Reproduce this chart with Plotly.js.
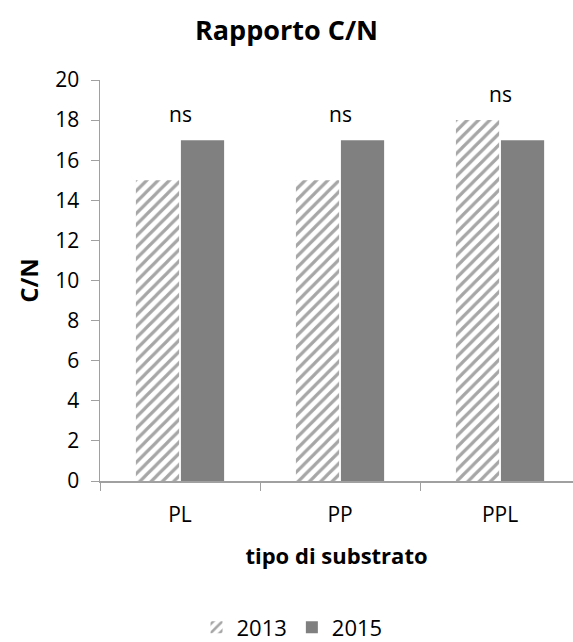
<!DOCTYPE html>
<html>
<head>
<meta charset="utf-8">
<script src="https://cdn.plot.ly/plotly-3.0.1.min.js"></script>
<style>html,body{margin:0;padding:0;background:#fff;}#chart{width:573px;height:642px;}</style>
</head>
<body>
<div id="chart"></div>
<script>
const categories = ["PL", "PP", "PPL"];
const values2013 = [15, 15, 18];
const values2015 = [17, 17, 17];
const seriesNames = ["2013", "2015"];
const sigLabels = ["ns", "ns", "ns"];
const yTicks = [0, 2, 4, 6, 8, 10, 12, 14, 16, 18, 20];

const font = "Open Sans, Liberation Sans, sans-serif";
const traces = [
  {
    type: "bar", name: seriesNames[0], x: categories, y: values2013,
    marker: {color: "#ffffff", line: {width: 0},
      pattern: {shape: "/", fgcolor: "#a6a6a6", bgcolor: "#ffffff", size: 8, solidity: 0.4}}
  },
  {
    type: "bar", name: seriesNames[1], x: categories, y: values2015,
    marker: {color: "#808080", line: {width: 0}}
  }
];

const annotations = categories.map((c, i) => ({
  x: c, y: Math.max(values2013[i], values2015[i]) + 1.3, text: sigLabels[i],
  showarrow: false, yanchor: "middle", xanchor: "center",
  font: {family: font, size: 21, color: "#000"}
}));

const layout = {
  width: 573, height: 642,
  margin: {l: 100, r: 0, t: 80, b: 161, autoexpand: false},
  paper_bgcolor: "#fff", plot_bgcolor: "#fff",
  font: {family: font, color: "#000", size: 21},
  title: {text: "<b>Rapporto C/N</b>", x: 0.5, xanchor: "center", y: 0.953, yanchor: "middle",
    font: {family: font, size: 27, color: "#000"}},
  barmode: "group", bargap: 0.4375, bargroupgap: 0.04,
  xaxis: {
    range: [-0.5, 2.456], showline: true, linecolor: "#a0a0a0", linewidth: 1.5,
    ticks: "outside", tickson: "boundaries", ticklen: 8, tickcolor: "#a0a0a0",
    ticklabelstandoff: 14, automargin: false,
    showgrid: false, zeroline: false, fixedrange: true,
    tickfont: {family: font, size: 21, color: "#000"},
    title: {text: "<b>tipo di substrato</b>", standoff: 22, font: {family: font, size: 22, color: "#000"}}
  },
  yaxis: {
    range: [0, 20], tickvals: yTicks, showline: true, linecolor: "#a0a0a0", linewidth: 1.5,
    ticks: "outside", ticklen: 8, tickcolor: "#a0a0a0", showgrid: false, zeroline: false,
    ticklabelstandoff: 7, automargin: false,
    tickfont: {family: font, size: 21, color: "#000"},
    title: {text: "<b>C/N</b>", standoff: 10, font: {family: font, size: 24, color: "#000"}}
  },
  showlegend: true,
  legend: {orientation: "h", x: 0.406, xanchor: "center", y: -0.365, yanchor: "middle",
    font: {family: font, size: 22, color: "#000"}, itemwidth: 30, traceorder: "normal"},
  annotations: annotations
};
Plotly.newPlot("chart", traces, layout, {displayModeBar: false, staticPlot: true});
</script>
</body>
</html>
